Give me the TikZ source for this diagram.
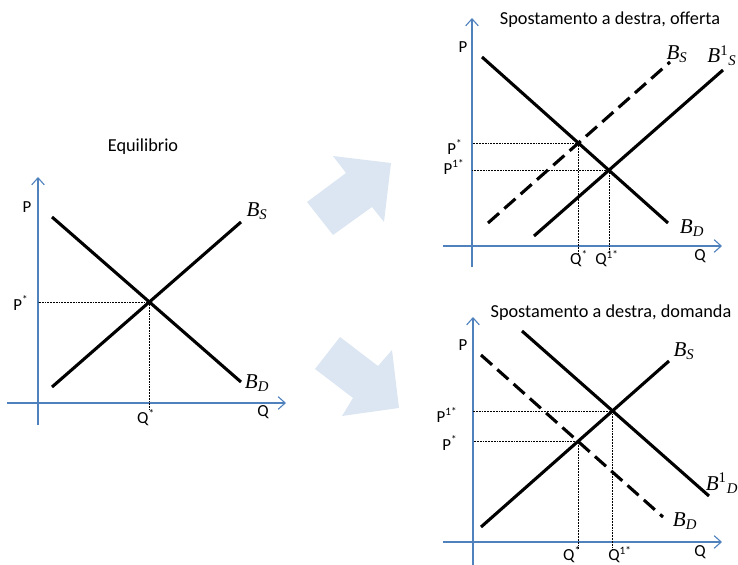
\documentclass[tikz,border=0pt]{standalone}
\usepackage{fontspec}
\setmainfont{Carlito}
\newfontfamily\curvefont{Liberation Serif}
\usetikzlibrary{arrows.meta, calc}
\definecolor{axisblue}{RGB}{79,129,189}
\definecolor{shiftblue}{RGB}{220,230,242}

\begin{document}
\begin{tikzpicture}[
x=0.025cm, y=-0.025cm,
font=\fontsize{12}{14}\selectfont,
>={Straight Barb[length=5pt,width=9pt]},
axis/.style={->, draw=axisblue, line width=0.8pt},
curve/.style={line width=2.2pt, line cap=butt},
shifted/.style={curve, dash pattern=on 10.5pt off 5pt},
guide/.style={line width=0.4pt, dash pattern=on 0.5pt off 0.6pt},
lab/.style={inner sep=1pt},
blab/.style={inner sep=1pt, font=\curvefont\itshape\fontsize{15}{17}\selectfont},
title/.style={inner sep=1pt, font=\fontsize{13}{15}\selectfont},
bigarrow/.style={fill=shiftblue, draw=none}
]
\useasboundingbox (0,0) rectangle (738,565);

% Equilibrio
\coordinate (l-y0) at (38,425); \coordinate (l-y1) at (38,177);
\coordinate (l-x0) at (7,403);  \coordinate (l-x1) at (286,403);
\coordinate (l-d0) at (52,217); \coordinate (l-d1) at (241,382);
\coordinate (l-s0) at (52,387); \coordinate (l-s1) at (241,222);
\coordinate (l-bot) at (0,410);
\coordinate (l-eq) at (intersection of l-d0--l-d1 and l-s0--l-s1);

\draw[axis] (l-y0) -- (l-y1);
\draw[axis] (l-x0) -- (l-x1);
\draw[guide] (l-eq) -- (l-eq -| l-y0);
\draw[guide] (l-eq) -- (l-eq |- l-bot);
\draw[curve] (l-d0) -- (l-d1);
\draw[curve] (l-s0) -- (l-s1);

\node[title] (l-title) at (143,147) {Equilibrio};
\node[lab] (l-p) at (27,207) {P};
\node[lab] (l-pstar) at (21,303) {P\textsuperscript{*}};
\node[lab] (l-qstar) at (146,418) {Q\textsuperscript{*}};
\node[lab] (l-q) at (263,412) {Q};
\node[blab] (l-bs) at (257,211) {B\textsubscript{S}};
\node[blab] (l-bd) at (257,383) {B\textsubscript{D}};

% Spostamento a destra, offerta
\coordinate (o-y0) at (472,267); \coordinate (o-y1) at (472,18);
\coordinate (o-x0) at (443,246); \coordinate (o-x1) at (722,246);
\coordinate (o-d0) at (482,57);  \coordinate (o-d1) at (668,223);
\coordinate (o-s0) at (488,223); \coordinate (o-s1) at (670,62);
\coordinate (o-n0) at (534,236); \coordinate (o-n1) at (723,70);
\coordinate (o-bot) at (0,253);
\coordinate (o-eq) at (intersection of o-d0--o-d1 and o-s0--o-s1);
\coordinate (o-eqn) at (intersection of o-d0--o-d1 and o-n0--o-n1);

\draw[axis] (o-y0) -- (o-y1);
\draw[axis] (o-x0) -- (o-x1);
\draw[guide] (o-eq) -- (o-eq -| o-y0);
\draw[guide] (o-eq) -- (o-eq |- o-bot);
\draw[guide] (o-eqn) -- (o-eqn -| o-y0);
\draw[guide] (o-eqn) -- (o-eqn |- o-bot);
\draw[curve] (o-d0) -- (o-d1);
\draw[shifted] (o-s0) -- (o-s1);
\draw[curve] (o-n0) -- (o-n1);

\node[title] (o-title) at (610,20) {Spostamento a destra, offerta};
\node[lab] (o-p) at (463,47) {P};
\node[lab] (o-pstar) at (455,147) {P\textsuperscript{*}};
\node[lab] (o-pone) at (454,167) {P\textsuperscript{1*}};
\node[lab] (o-qstar) at (579,259) {Q\textsuperscript{*}};
\node[lab] (o-qone) at (607,259) {Q\textsuperscript{1*}};
\node[lab] (o-q) at (700,256) {Q};
\node[blab] (o-bs) at (677,54) {B\textsubscript{S}};
\node[blab] (o-bsone) at (722,56) {B\textsuperscript{\upshape 1}\textsubscript{S}};
\node[blab] (o-bd) at (692,228) {B\textsubscript{D}};

% Spostamento a destra, domanda
\coordinate (d-y0) at (473,572); \coordinate (d-y1) at (473,317);
\coordinate (d-x0) at (443,542); \coordinate (d-x1) at (722,542);
\coordinate (d-s0) at (481,527); \coordinate (d-s1) at (669,361);
\coordinate (d-d0) at (481,355); \coordinate (d-d1) at (663,517);
\coordinate (d-n0) at (522,331); \coordinate (d-n1) at (709,496);
\coordinate (d-bot) at (0,549);
\coordinate (d-eq) at (intersection of d-d0--d-d1 and d-s0--d-s1);
\coordinate (d-eqn) at (intersection of d-n0--d-n1 and d-s0--d-s1);

\draw[axis] (d-y0) -- (d-y1);
\draw[axis] (d-x0) -- (d-x1);
\draw[guide] (d-eq) -- (d-eq -| d-y0);
\draw[guide] (d-eq) -- (d-eq |- d-bot);
\draw[guide] (d-eqn) -- (d-eqn -| d-y0);
\draw[guide] (d-eqn) -- (d-eqn |- d-bot);
\draw[curve] (d-s0) -- (d-s1);
\draw[shifted] (d-d0) -- (d-d1);
\draw[curve] (d-n0) -- (d-n1);

\node[title] (d-title) at (611,313) {Spostamento a destra, domanda};
\node[lab] (d-p) at (463,345) {P};
\node[lab] (d-pone) at (447,415) {P\textsuperscript{1*}};
\node[lab] (d-pstar) at (450,443) {P\textsuperscript{*}};
\node[lab] (d-qstar) at (572,555) {Q\textsuperscript{*}};
\node[lab] (d-qone) at (620,555) {Q\textsuperscript{1*}};
\node[lab] (d-q) at (700,552) {Q};
\node[blab] (d-bs) at (684,351) {B\textsubscript{S}};
\node[blab] (d-bdone) at (722,483) {B\textsuperscript{\upshape 1}\textsubscript{D}};
\node[blab] (d-bd) at (685,521) {B\textsubscript{D}};

% big shift arrows
\fill[bigarrow] (333,156) -- (391,163) -- (384,222) -- (372,207) -- (333,235) -- (307,202) -- (346,173) -- cycle;
\fill[bigarrow] (340,337) -- (378,366) -- (392,350) -- (399,408) -- (342,416) -- (353,398) -- (315,369) -- cycle;

\end{tikzpicture}
\end{document}
